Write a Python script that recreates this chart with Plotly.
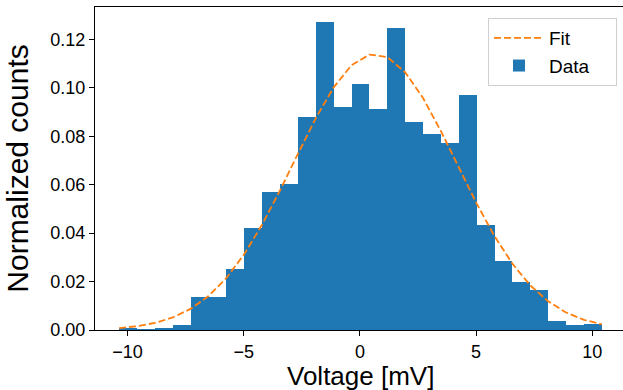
import plotly.graph_objects as go

# Histogram bin edges (mV) (27 equal bins)
bin_edges = [-10.360, -9.591, -8.821, -8.052, -7.283, -6.514, -5.744, -4.975,
             -4.206, -3.437, -2.667, -1.898, -1.129, -0.360, 0.410, 1.179,
             1.948, 2.717, 3.487, 4.256, 5.025, 5.794, 6.564, 7.333, 8.102,
             8.871, 9.641, 10.410]

# Normalized counts per bin
data_heights = [0.0008, 0.0004, 0.0008, 0.0021, 0.0137, 0.0137, 0.0253, 0.0421,
                0.0569, 0.0603, 0.0878, 0.1270, 0.0920, 0.1014, 0.0913, 0.1245,
                0.0858, 0.0808, 0.0771, 0.0969, 0.0433, 0.0285, 0.0198, 0.0165,
                0.0037, 0.0021, 0.0026]

# Fit curve values at the bin edges
fit_values = [0.00081, 0.00158, 0.00293, 0.00518, 0.00873, 0.01403, 0.02148,
              0.03133, 0.04354, 0.05764, 0.07274, 0.08745, 0.10017, 0.10933,
              0.11371, 0.11269, 0.10640, 0.09575, 0.08207, 0.06704, 0.05219,
              0.03871, 0.02734, 0.01841, 0.01182, 0.00722, 0.00420, 0.00233]

x_tick_vals = [-10, -5, 0, 5, 10]
x_tick_text = ["\u221210", "\u22125", "0", "5", "10"]
y_tick_vals = [0.00, 0.02, 0.04, 0.06, 0.08, 0.10, 0.12]
y_tick_text = ["0.00", "0.02", "0.04", "0.06", "0.08", "0.10", "0.12"]

x_label = "Voltage [mV]"
y_label = "Normalized counts"
legend_names = ["Fit", "Data"]

centers = [(a + b) / 2 for a, b in zip(bin_edges[:-1], bin_edges[1:])]
widths = [b - a for a, b in zip(bin_edges[:-1], bin_edges[1:])]

FONT = "Liberation Sans, Arial, sans-serif"
PAD = "\u00a0" * 4

fig = go.Figure()
fig.add_trace(go.Bar(
    x=centers, y=data_heights, width=widths, name=legend_names[1] + PAD,
    marker=dict(color="#1f77b4", line=dict(width=0)),
    legendrank=2,
))
fig.add_trace(go.Scatter(
    x=bin_edges, y=fit_values, mode="lines", name=legend_names[0] + PAD,
    line=dict(color="#ff7f0e", width=1.8, dash="7px,3px"),
    legendrank=1,
))

fig.update_layout(
    width=623, height=390,
    margin=dict(l=95, r=0, t=6.5, b=60, autoexpand=False),
    paper_bgcolor="white", plot_bgcolor="white",
    bargap=0,
    font=dict(family=FONT, size=18, color="black"),
    showlegend=True,
    legend=dict(
        x=0.9886, xanchor="right", y=0.966, yanchor="top",
        bgcolor="rgba(255,255,255,0.8)", bordercolor="#d0d0d0", borderwidth=1,
        font=dict(size=19), tracegroupgap=2, itemwidth=50,
    ),
    xaxis=dict(
        range=[-11.3985, 11.321], tickvals=x_tick_vals, ticktext=x_tick_text,
        ticks="outside", ticklen=5, tickwidth=1.1, tickcolor="black",
        showline=True, linecolor="black", linewidth=1.1, mirror=True,
        showgrid=False, zeroline=False, automargin=False,
    ),
    yaxis=dict(
        range=[0, 0.13335], tickvals=y_tick_vals, ticktext=y_tick_text,
        ticks="outside", ticklen=5, tickwidth=1.1, tickcolor="black",
        showline=True, linecolor="black", linewidth=1.1, mirror=False,
        showgrid=False, zeroline=False, automargin=False,
        title=dict(text=y_label, font=dict(size=30), standoff=12),
    ),
    annotations=[dict(
        text=x_label, xref="paper", yref="paper", x=0.5028, y=-0.142,
        xanchor="center", yanchor="middle", showarrow=False,
        font=dict(size=26),
    )],
)

fig.write_html("out.html", config={"displayModeBar": False},
               post_script="document.body.style.margin='0';")
